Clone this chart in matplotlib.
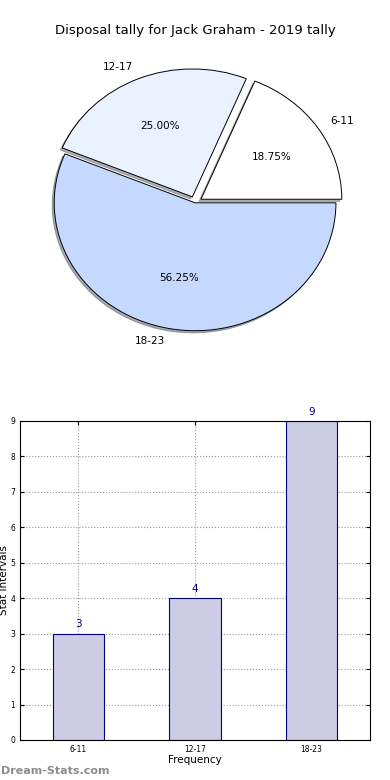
import matplotlib
matplotlib.use("Agg")
import matplotlib.pyplot as plt

categories = ["6-11", "12-17", "18-23"]
counts = [3, 4, 9]
explode = [0.05, 0.05, 0]
pie_colors = ["#FFFFFF", "#EAF1FF", "#C5D9FF"]

fig = plt.figure(figsize=(3.9, 7.8), dpi=100)

# pie chart (top)
ax1 = fig.add_axes([0.0487, 0.535, 0.903, 0.410])
wedges, texts, autotexts = ax1.pie(counts, labels=categories, explode=explode,
                                   colors=pie_colors, autopct="%1.2f%%",
                                   shadow={"ox": -0.01, "oy": -0.012, "shade": 0.6},
                                   wedgeprops={"edgecolor": "black", "linewidth": 0.7},
                                   textprops={"fontsize": 7.5})
ax1.set_aspect("auto")
ax1.set_xlim(-1.25, 1.25)
ax1.set_ylim(-1.25, 1.25)
fig.text(0.5, 0.961, "Disposal tally for Jack Graham - 2019 tally", ha="center", va="center", fontsize=9.5)

# bar chart (bottom)
ax2 = fig.add_axes([0.0513, 0.0513, 0.897, 0.409])
x = list(range(len(categories)))
ax2.bar(x, counts, width=0.44, color="#CCCCE5", edgecolor="#000080", linewidth=0.8, zorder=2)
for xi, c in zip(x, counts):
    ax2.text(xi, c + 0.12, str(c), ha="center", va="bottom", color="#000080", fontsize=7.5)
ax2.set_xlim(-0.5, 2.5)
ax2.set_ylim(0, 9)
ax2.set_xticks(x)
ax2.set_xticklabels(categories)
ax2.set_yticks(range(10))
ax2.tick_params(direction="in", labelsize=5.5, top=True, right=True, length=3)
ax2.grid(True, linestyle=":", color="#999999", linewidth=0.8, zorder=0)
ax2.set_axisbelow(True)
ax2.set_xlabel("Frequency", fontsize=7.5, labelpad=1)
ax2.set_ylabel("Stat Intervals", fontsize=7.5)
ax2.yaxis.set_label_coords(-0.032, 0.5)

fig.text(0.002, 0.012, "Dream-Stats.com", color="#8c8c8c", fontsize=8, fontweight="semibold",
         ha="left", va="center")

fig.savefig("out.png", dpi=100)
